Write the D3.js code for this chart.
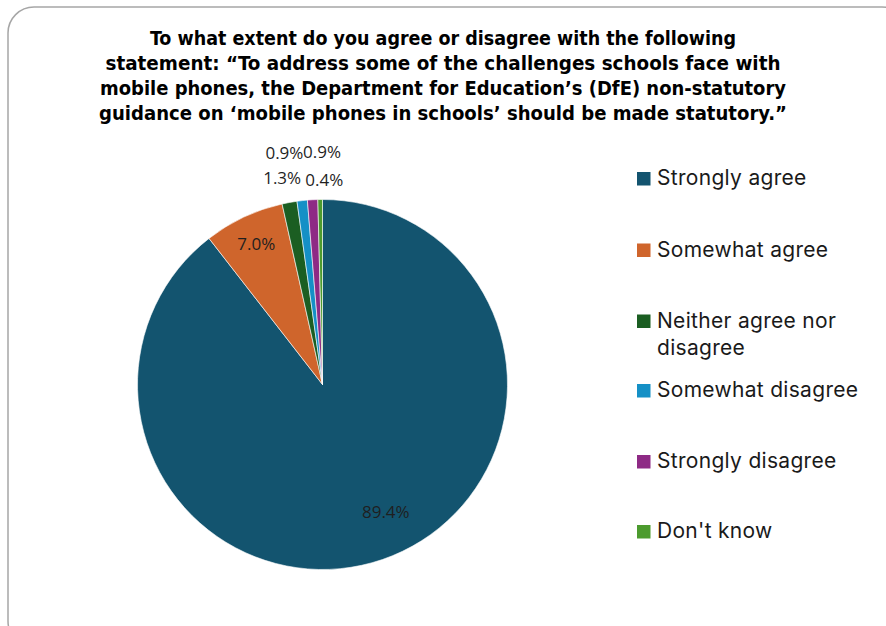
<!DOCTYPE html>
<html>
<head>
<meta charset="utf-8">
<script src="https://cdn.jsdelivr.net/npm/d3@7"></script>
<style>
  html, body { margin: 0; padding: 0; background: #ffffff; }
  svg { display: block; }
</style>
</head>
<body>
<svg id="chart" width="886" height="626"></svg>
<script>
// Survey responses (percent of respondents)
const categories = [
  "Strongly agree",
  "Somewhat agree",
  "Neither agree nor disagree",
  "Somewhat disagree",
  "Strongly disagree",
  "Don't know"
];
const values = [89.4, 7.0, 1.3, 0.9, 0.9, 0.4];
const colors = ["#13546f", "#cf652c", "#1b5e22", "#1590c6", "#8e2a85", "#4c9b2e"];

const titleLines = [
  "To what extent do you agree or disagree with the following",
  "statement: \u201cTo address some of the challenges schools face with",
  "mobile phones, the Department for Education\u2019s (DfE) non-statutory",
  "guidance on \u2018mobile phones in schools\u2019 should be made statutory.\u201d"
];
const legendLines = [
  ["Strongly agree"],
  ["Somewhat agree"],
  ["Neither agree nor", "disagree"],
  ["Somewhat disagree"],
  ["Strongly disagree"],
  ["Don't know"]
];

const svg = d3.select("#chart");

// Chart area frame
svg.append("rect")
  .attr("x", 8).attr("y", 7)
  .attr("width", 900).attr("height", 640)
  .attr("rx", 26).attr("ry", 26)
  .attr("fill", "#ffffff")
  .attr("stroke", "#a6a6a6")
  .attr("stroke-width", 1.5);

// Title
const titleWidths = [586, 675, 686, 688];
const title = svg.append("g");
titleLines.forEach((t, i) => {
  title.append("text")
    .attr("x", 443)
    .attr("y", 45 + i * 25)
    .attr("text-anchor", "middle")
    .attr("font-family", "'Liberation Sans Narrow', 'DejaVu Sans Condensed', 'Roboto', sans-serif")
    .attr("font-weight", "bold")
    .attr("font-size", 20)
    .attr("fill", "#000000")
    .attr("textLength", titleWidths[i])
    .attr("lengthAdjust", "spacingAndGlyphs")
    .text(t);
});

// Pie
const cx = 322.5, cy = 384.5, r = 185;
const pie = d3.pie().sort(null).value(d => d.v);
const data = categories.map((c, i) => ({ c, v: values[i], col: colors[i] }));
const arcs = pie(data);
const arc = d3.arc().innerRadius(0).outerRadius(r);

const g = svg.append("g").attr("transform", `translate(${cx},${cy})`);
g.selectAll("path.slice")
  .data(arcs)
  .join("path")
  .attr("class", "slice")
  .attr("d", arc)
  .attr("fill", d => d.data.col)
  .attr("stroke", "#ffffff")
  .attr("stroke-width", 0.6);

// Data labels: large slices inside, thin slices stacked outside the rim
const fmt = d => d.toFixed(1) + "%";
const labelLayout = [
  { rad: r * 0.73, dx: 19.5 },
  { rad: r * 0.84, dx: 0 },
  { rad: r + 24.6, dx: -3 },
  { rad: r + 48, dx: -12.5 },
  { rad: r + 48.4, dx: 12 },
  { rad: r + 19.5, dx: 4.3 }
];
arcs.forEach((d, i) => {
  const mid = (d.startAngle + d.endAngle) / 2;
  const L = labelLayout[i];
  g.append("text")
    .attr("x", Math.sin(mid) * L.rad + L.dx)
    .attr("y", -Math.cos(mid) * L.rad)
    .attr("dy", "0.36em")
    .attr("text-anchor", "middle")
    .attr("font-family", "'Open Sans', 'Noto Sans', sans-serif")
    .attr("font-size", 17)
    .attr("fill", "#1f1f1f")
    .text(fmt(d.data.v));
});

// Legend
const legend = svg.append("g");
const baselines = [185, 256.5, 327.5, 397, 468, 538];
legendLines.forEach((lines, i) => {
  legend.append("rect")
    .attr("x", 637).attr("y", baselines[i] - 13)
    .attr("width", 13.5).attr("height", 13.5)
    .attr("fill", colors[i]);
  lines.forEach((t, j) => {
    legend.append("text")
      .attr("x", 657)
      .attr("y", baselines[i] + j * 27.5)
      .attr("font-family", "Inter, 'Open Sans', sans-serif")
      .attr("font-size", 21)
      .attr("letter-spacing", 0.3)
      .attr("fill", "#1a1a1a")
      .text(t);
  });
});
</script>
</body>
</html>
